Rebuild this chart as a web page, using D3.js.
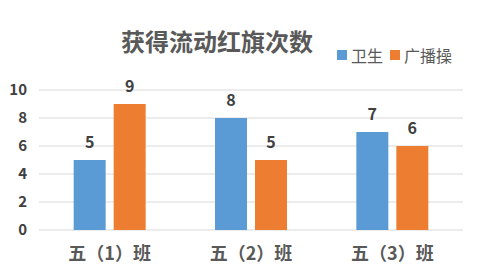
<!DOCTYPE html>
<html>
<head>
<meta charset="utf-8">
<script src="https://cdn.jsdelivr.net/npm/d3@7"></script>
<style>
  body { margin: 0; background: #fff; }
  text { font-family: "Noto Sans CJK SC", "Noto Sans", sans-serif; }
</style>
</head>
<body>
<div id="chart"></div>
<script>
const classes = ["五（1）班", "五（2）班", "五（3）班"];
const seriesNames = ["卫生", "广播操"];
const hygiene = [5, 8, 7];
const exercise = [9, 5, 6];
const yTicks = [0, 2, 4, 6, 8, 10];
const colors = ["#5B9BD5", "#ED7D31"];

const width = 477, height = 277;
const margin = { top: 90, right: 14, bottom: 47, left: 39 };
const plotW = width - margin.left - margin.right,
      plotH = height - margin.top - margin.bottom;

const svg = d3.select("#chart")
  .append("svg")
    .attr("width", width)
    .attr("height", height);

const g = svg.append("g")
  .attr("transform", `translate(${margin.left},${margin.top})`);

const x = d3.scaleBand()
  .domain(classes)
  .range([0, plotW]);

const xInner = d3.scaleBand()
  .domain(seriesNames)
  .range([x.bandwidth() / 2 - 36, x.bandwidth() / 2 + 36])
  .paddingInner(0.2);

const y = d3.scaleLinear()
  .domain([0, 10])
  .range([plotH, 0]);

// gridlines
g.selectAll("line.grid")
  .data(yTicks)
  .enter()
  .append("line")
    .attr("x1", 0)
    .attr("x2", plotW)
    .attr("y1", d => y(d))
    .attr("y2", d => y(d))
    .attr("stroke", "#d9d9d9")
    .attr("stroke-width", 1);

// y labels
g.selectAll("text.ytick")
  .data(yTicks)
  .enter()
  .append("text")
    .attr("x", -12)
    .attr("y", d => y(d) + 5)
    .attr("text-anchor", "end")
    .style("font-size", "15px")
    .style("font-weight", "bold")
    .style("fill", "#404040")
    .text(d => d);

const rows = classes.map((c, i) => ({ cls: c, values: [hygiene[i], exercise[i]] }));

const groups = g.selectAll("g.cls")
  .data(rows)
  .enter()
  .append("g")
    .attr("transform", d => `translate(${x(d.cls)},0)`);

groups.selectAll("rect")
  .data(d => d.values.map((v, j) => ({ name: seriesNames[j], v, j })))
  .enter()
  .append("rect")
    .attr("x", d => xInner(d.name))
    .attr("width", xInner.bandwidth())
    .attr("y", d => y(d.v))
    .attr("height", d => plotH - y(d.v))
    .style("fill", d => colors[d.j]);

groups.selectAll("text.val")
  .data(d => d.values.map((v, j) => ({ name: seriesNames[j], v, j })))
  .enter()
  .append("text")
    .attr("x", d => xInner(d.name) + xInner.bandwidth() / 2)
    .attr("y", d => y(d.v) - 12)
    .attr("text-anchor", "middle")
    .style("font-size", "16px")
    .style("font-weight", "bold")
    .style("fill", "#404040")
    .text(d => d.v);

// x labels
g.selectAll("text.xlab")
  .data(classes)
  .enter()
  .append("text")
    .attr("x", d => x(d) + x.bandwidth() / 2)
    .attr("y", plotH + 30)
    .attr("text-anchor", "middle")
    .style("font-size", "18px")
    .style("font-weight", "bold")
    .style("fill", "#595959")
    .text(d => d);

// title
svg.append("text")
  .attr("x", 217)
  .attr("y", 51)
  .attr("text-anchor", "middle")
  .style("font-size", "24px")
  .style("font-weight", "bold")
  .style("fill", "#595959")
  .text("获得流动红旗次数");

// legend
const legend = svg.append("g").attr("transform", "translate(337,50)");
const legX = [0, 53];
seriesNames.forEach((n, i) => {
  legend.append("rect")
    .attr("x", legX[i])
    .attr("y", 0)
    .attr("width", 10)
    .attr("height", 10)
    .style("fill", colors[i]);
  legend.append("text")
    .attr("x", legX[i] + 14)
    .attr("y", 12)
    .style("font-size", "16px")
    .style("fill", "#595959")
    .text(n);
});
</script>
</body>
</html>
